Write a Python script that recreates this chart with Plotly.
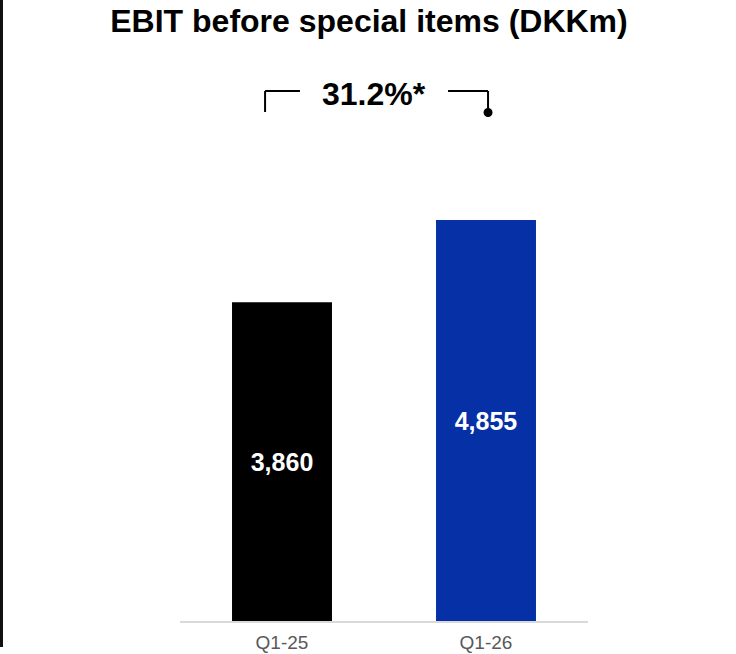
import plotly.graph_objects as go

categories = ["Q1-25", "Q1-26"]
values = [3860, 4855]
bar_colors = ["#000000", "#0630A6"]
title_text = "EBIT before special items (DKKm)"
growth_label = "31.2%*"

FONT = "Liberation Sans, Arial, sans-serif"

W, H = 736, 654
ml, mr, mt, mb = 180, 148, 142, 33
plot_h = H - mt - mb
plot_w = W - ml - mr

def py(pix_y):
    return (H - mb - pix_y) / plot_h

def px(pix_x):
    return (pix_x - ml) / plot_w

fig = go.Figure()
fig.add_trace(go.Bar(
    x=categories, y=values,
    marker=dict(color=bar_colors, line=dict(width=0)),
    width=0.49,
    texttemplate="%{y:,}",
    textposition="inside",
    insidetextanchor="middle",
    textfont=dict(family=FONT, size=25, color="white", weight="bold"),
    hoverinfo="skip",
))

shapes = []
line_style = dict(color="black", width=2)
# left bracket
shapes.append(dict(type="line", xref="x", yref="paper", x0=-0.083, x1=-0.083, y0=py(91), y1=py(112), line=line_style))
shapes.append(dict(type="line", xref="x", yref="paper", x0=-0.083, x1=0.088, y0=py(91), y1=py(91), line=line_style))
# right bracket
shapes.append(dict(type="line", xref="x", yref="paper", x0=0.814, x1=1.01, y0=py(91), y1=py(91), line=line_style))
shapes.append(dict(type="line", xref="x", yref="paper", x0=1.01, x1=1.01, y0=py(91), y1=py(112), line=line_style))
shapes.append(dict(type="circle", xref="x", yref="paper", xsizemode="pixel", ysizemode="pixel",
                   xanchor=1.01, yanchor=py(112.5), x0=-4.5, x1=4.5, y0=-4.5, y1=4.5,
                   fillcolor="black", line=dict(width=0)))
# left frame line
shapes.append(dict(type="line", xref="paper", yref="paper", x0=px(1.5), x1=px(1.5), y0=py(647), y1=py(0),
                   line=dict(color="#111111", width=3)))

fig.update_layout(
    width=W, height=H,
    margin=dict(l=ml, r=mr, t=mt, b=mb, autoexpand=False),
    paper_bgcolor="white", plot_bgcolor="white",
    showlegend=False,
    title=dict(text=title_text, x=369 / W, xanchor="center", y=1 - 21 / H, yanchor="middle",
               font=dict(family=FONT, size=32, color="black", weight="bold")),
    xaxis=dict(type="category", range=[-0.5, 1.5], showgrid=False, zeroline=False,
               showline=True, linecolor="#D9D9D9", linewidth=2, ticks="", automargin=False,
               ticklabelstandoff=3,
               tickfont=dict(family=FONT, size=19, color="#595959"), fixedrange=True),
    yaxis=dict(range=[0, 5800], visible=False, fixedrange=True, automargin=False),
    shapes=shapes,
    annotations=[dict(text=growth_label, xref="x", yref="paper", x=0.451, y=py(94),
                      xanchor="center", yanchor="middle", showarrow=False,
                      font=dict(family=FONT, size=32, color="black", weight="bold"))],
)

fig.write_html("out.html")
